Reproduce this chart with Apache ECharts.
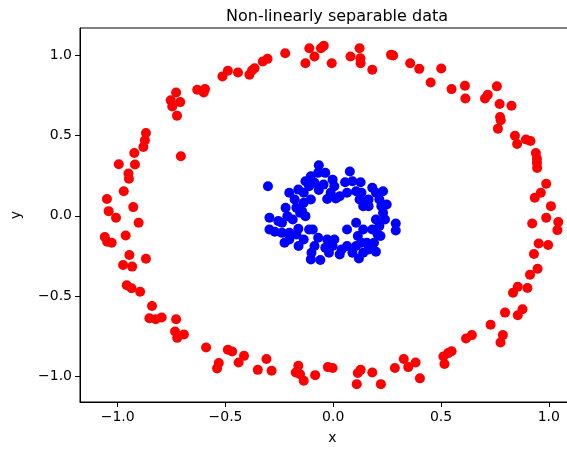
<!DOCTYPE html>
<html><head><meta charset="utf-8">
<script src="https://cdn.jsdelivr.net/npm/echarts@6/dist/echarts.min.js"></script>
<style>html,body{margin:0;padding:0;background:#fff}#c{width:567px;height:449px}</style>
</head><body><div id="c"></div>
<script>
const title = "Non-linearly separable data";
const tickValues = [-1.0, -0.5, 0.0, 0.5, 1.0];
const outerRed = [
[-0.223,1.011],[-0.111,1.042],[-0.129,0.949],[-0.087,0.991],[-0.057,1.042],[-0.044,1.057],[-0.007,0.949],
[0.080,0.991],[0.122,1.042],[0.126,0.980],[0.127,0.949],[0.181,0.908],[0.268,1.001],[0.278,0.997],
[0.357,0.949],[0.399,0.914],[0.452,0.829],[0.501,0.916],[0.549,0.788],[0.611,0.809],[0.613,0.730],
[0.704,0.730],[0.717,0.753],[0.759,0.805],[0.772,0.695],[0.827,0.685],[0.774,0.614],[0.777,0.594],
[0.764,0.542],[0.843,0.498],[0.853,0.447],[0.894,0.474],[0.915,0.465],[0.940,0.391],[0.945,0.354],
[0.945,0.329],[0.946,0.298],[0.988,0.199],[0.963,0.143],[0.935,0.112],[1.010,0.060],[0.988,-0.012],
[1.044,-0.039],[1.040,-0.089],[0.923,-0.048],[0.953,-0.172],[0.997,-0.182],[0.931,-0.238],[0.948,-0.329],
[0.913,-0.366],[0.901,-0.449],[0.856,-0.441],[0.834,-0.478],[0.878,-0.581],[0.856,-0.618],[0.797,-0.602],
[0.730,-0.678],[0.787,-0.742],[0.776,-0.788],[0.643,-0.742],[0.616,-0.763],[0.549,-0.842],[0.533,-0.854],
[0.511,-0.875],[0.516,-0.922],[0.402,-1.011],[0.382,-0.912],[0.348,-0.941],[0.327,-0.891],[0.286,-0.947],
[0.221,-1.047],[0.181,-0.974],[0.127,-0.958],[0.114,-0.978],[0.109,-1.047],[-0.003,-0.947],[-0.025,-0.941],
[-0.084,-0.991],[-0.137,-1.026],[-0.162,-0.933],[-0.174,-0.974],[-0.154,-0.985],[-0.286,-0.964],[-0.310,-0.891],
[-0.350,-0.958],[-0.414,-0.871],[-0.439,-0.912],[-0.469,-0.844],[-0.489,-0.833],[-0.531,-0.916],[-0.539,-0.949],
[-0.590,-0.819],[-0.693,-0.738],[-0.724,-0.759],[-0.734,-0.720],[-0.729,-0.643],[-0.796,-0.633],[-0.824,-0.643],
[-0.853,-0.637],[-0.841,-0.561],[-0.896,-0.472],[-0.936,-0.451],[-0.958,-0.432],[-0.933,-0.316],[-0.975,-0.306],
[-0.946,-0.244],[-0.869,-0.267],[-0.963,-0.122],[-1.060,-0.132],[-1.049,-0.161],[-1.028,-0.168],[-0.903,-0.043],
[-0.928,0.054],[-1.008,-0.012],[-1.042,0.029],[-1.050,0.105],[-0.972,0.153],[-0.948,0.230],[-0.950,0.263],
[-0.920,0.319],[-0.995,0.321],[-0.923,0.391],[-0.881,0.428],[-0.874,0.469],[-0.869,0.515],[-0.707,0.370],
[-0.725,0.623],[-0.747,0.680],[-0.754,0.718],[-0.710,0.707],[-0.729,0.767],[-0.631,0.784],[-0.601,0.767],
[-0.595,0.788],[-0.514,0.867],[-0.489,0.902],[-0.442,0.891],[-0.389,0.877],[-0.377,0.904],[-0.365,0.918],
[-0.327,0.960],[-0.305,0.976]
];
const innerBlue = [
[-0.303,0.184],[-0.067,0.314],[0.077,0.275],[0.127,0.209],[0.231,0.153],[0.181,0.174],[0.248,0.070],
[0.290,-0.048],[0.290,-0.091],[0.219,-0.126],[0.198,-0.223],[0.119,-0.265],[0.030,-0.240],[-0.060,-0.275],
[-0.101,-0.230],[-0.161,-0.188],[-0.226,-0.168],[-0.271,-0.099],[-0.296,-0.085],[-0.296,-0.012],[-0.221,0.050],
[-0.204,0.143],[-0.162,0.163],[-0.129,0.215],[-0.104,0.246],[-0.070,0.267],[-0.037,0.267],[-0.003,0.225],
[0.005,0.184],[-0.012,0.143],[0.012,0.108],[-0.028,0.105],[-0.067,0.160],[-0.104,0.101],[-0.137,0.081],
[-0.171,0.050],[-0.188,-0.023],[-0.162,-0.081],[-0.129,-0.002],[-0.095,-0.085],[-0.070,-0.137],[-0.037,-0.199],
[0.005,-0.147],[0.039,-0.209],[0.064,-0.085],[0.106,-0.043],[0.114,-0.126],[0.139,-0.085],[0.156,-0.168],
[0.181,-0.085],[0.198,-0.023],[0.231,0.019],[0.214,0.101],[0.164,0.101],[0.131,0.143],[0.106,0.153],
[0.064,0.143],[0.055,0.209],[0.164,0.060],[0.139,0.060],[0.122,0.101],[-0.204,-0.106],[-0.238,-0.043],
[-0.255,-0.033],[-0.104,-0.271],[-0.020,-0.230],[0.064,-0.188],[0.164,-0.209],[0.206,-0.116],[0.240,-0.023],
[-0.145,0.030],[-0.112,0.184],[-0.045,0.194],[0.030,0.122],[-0.204,-0.147],[-0.137,-0.147],[-0.087,-0.188],
[-0.003,-0.188],[0.089,-0.230],[0.139,-0.230],[0.189,-0.168],[0.214,-0.064],[0.223,0.060],[0.198,0.143],
[0.089,0.215],[-0.087,0.205],[-0.137,0.143],[-0.179,0.101],[-0.154,0.019],[-0.213,-0.002],[-0.238,-0.106],
[-0.171,-0.116],[-0.112,-0.085],[-0.028,-0.147],[0.131,-0.168],[0.106,-0.188]
];
const fmt = v => v.toFixed(1).replace('-', '\u2212');
const font = "DejaVu Sans";
const axisCommon = {
  axisLine: {show: true, onZero: false, lineStyle: {color: '#000', width: 1}},
  axisTick: {show: true, inside: false, length: 5, customValues: tickValues, lineStyle: {color: '#000', width: 1}},
  axisLabel: {customValues: tickValues, formatter: fmt, color: '#000', fontFamily: font, fontSize: 14, margin: 8},
  splitLine: {show: false},
  nameLocation: 'middle',
  nameTextStyle: {color: '#000', fontFamily: font, fontSize: 14}
};
const chart = echarts.init(document.getElementById('c'));
chart.setOption({
  animation: false,
  backgroundColor: '#fff',
  title: {text: title, left: 332, top: 4, textAlign: 'center',
    textStyle: {fontFamily: font, fontSize: 16, fontWeight: 'normal', color: '#000'}},
  grid: {left: 80, top: 28, width: 505, height: 374, containLabel: false, outerBoundsMode: 'none',
    show: true, borderColor: '#000', borderWidth: 1},
  xAxis: Object.assign({type: 'value', min: -1.175, max: 1.168, name: 'x', nameGap: 29}, axisCommon),
  yAxis: Object.assign({type: 'value', min: -1.158, max: 1.168, name: 'y', nameGap: 57}, axisCommon),
  series: [
    {type: 'scatter', data: outerRed, symbolSize: 10, itemStyle: {color: '#ff0000', opacity: 1}},
    {type: 'scatter', data: innerBlue, symbolSize: 10, itemStyle: {color: '#0000ff', opacity: 1}}
  ]
});
</script></body></html>
